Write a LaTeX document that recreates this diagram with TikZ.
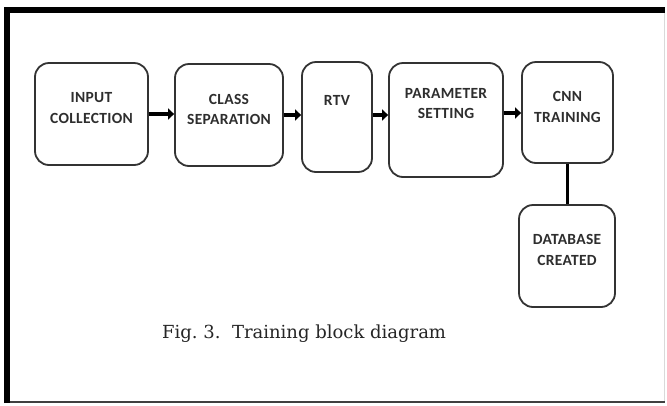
\documentclass[tikz,border=0pt]{standalone}
\usepackage{fontspec}
\setmainfont{DejaVu Serif}
\newfontfamily\boxfont[LetterSpace=2]{Carlito}
\usetikzlibrary{arrows.meta,calc}
\definecolor{edge}{HTML}{333333}
\definecolor{ink}{HTML}{2E2E2E}
\tikzset{
  blockbox/.style={draw=edge, line width=1.8pt, rounded corners=14pt, fill=white, inner sep=0pt},
  blocktext/.style={align=center, text=ink, inner sep=0pt,
    font=\boxfont\bfseries\fontsize{15.5}{20.5}\selectfont},
  flow/.style={line width=4.5pt, draw=black,
    -{Triangle[length=6pt,width=11pt]}, shorten >=0pt},
  link/.style={line width=2.2pt, draw=black},
}
\frenchspacing
\begin{document}
\begin{tikzpicture}[x=1pt,y=-1pt]
\useasboundingbox (0,0) rectangle (667,405);
\fill[white] (0,0) rectangle (667,405);

% outer frame: heavy on top/left, light on right/bottom
\draw[line width=0.8pt, draw=black!15] (664,10) -- (664,402);
\draw[line width=2pt, draw=black!75] (4,402) -- (665,402);
\draw[line width=5.5pt, draw=black] (7,403) -- (7,10) -- (665,10);

% blocks
\node[blockbox, minimum width=113pt, minimum height=102pt] (inp) at (91.5,114) {};
\node[blockbox, minimum width=108pt, minimum height=102pt] (cls) at (229,115) {};
\node[blockbox, minimum width=70pt,  minimum height=110pt] (rtv) at (337,117) {};
\node[blockbox, minimum width=114pt, minimum height=114pt] (par) at (446,120) {};
\node[blockbox, minimum width=91pt,  minimum height=101pt] (cnn) at (567.5,112.5) {};
\node[blockbox, minimum width=96pt,  minimum height=102pt] (dbc) at (567,256) {};

% block captions
\node[blocktext] (inp-t) at (91.5,108) {INPUT\\COLLECTION};
\node[blocktext] (cls-t) at (229,109.5) {CLASS\\SEPARATION};
\node[blocktext] (rtv-t) at (337,100) {RTV};
\node[blocktext] (par-t) at (446,103.5) {PARAMETER\\SETTING};
\node[blocktext] (cnn-t) at (567.5,107) {CNN\\TRAINING};
\node[blocktext] (dbc-t) at (567,250) {DATABASE\\CREATED};

% connectors
\draw[flow] (inp.east) -- (inp.east -| cls.west);
\draw[flow] (cls.east) -- (cls.east -| rtv.west);
\draw[flow] (rtv.east) ++(0,-2) coordinate (rtv-o) (rtv-o) -- (rtv-o -| par.west);
\draw[flow] (par.east) ++(0,-7) coordinate (par-o) (par-o) -- (par-o -| cnn.west);
\draw[link] (cnn.south) -- (cnn.south |- dbc.north);

% figure caption
\node[anchor=base west, inner sep=0pt, text=black!85,
      font=\fontsize{18}{21}\selectfont] (cap) at (162,338)
  {Fig. 3.\ \ Training block diagram};
\end{tikzpicture}
\end{document}
